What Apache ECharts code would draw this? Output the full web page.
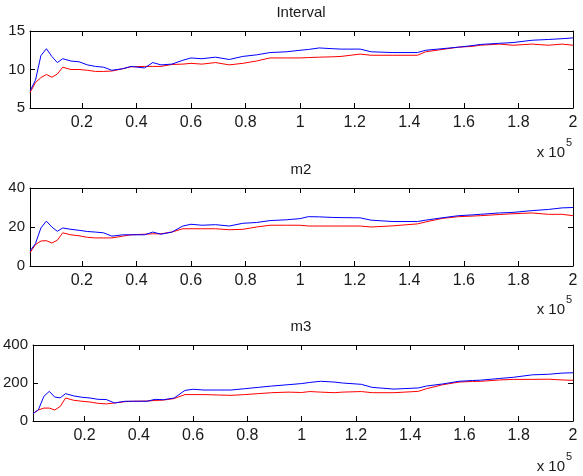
<!DOCTYPE html>
<html>
<head>
<meta charset="utf-8">
<script src="https://cdn.jsdelivr.net/npm/echarts@6/dist/echarts.min.js"></script>
<style>
  html, body { margin: 0; padding: 0; background: #fff; }
  #chart { width: 583px; height: 476px; }
</style>
</head>
<body>
<div id="chart"></div>
<script>
// x positions (raw units, axis shown in 1e5)
var xValues = [1000, 3000, 5000, 7000, 9000, 11000, 13000, 16000, 19000, 22000, 25000, 28000, 31000, 35000, 38000, 43000,
	46000, 49000, 53000, 57000, 60000, 64000, 69000, 74000, 79000, 84000, 89000, 95000, 100000, 103000, 107000, 112000,
	115000, 122000, 126000, 134000, 143000, 146000, 152000, 158000, 163000, 166000, 173000, 178000, 185000, 191000, 196000, 200000];
var xTicks = [20000, 40000, 60000, 80000, 100000, 120000, 140000, 160000, 180000, 200000];

var titles = ['Interval', 'm2', 'm3'];

// Interval
var intervalBlue = [7.2, 8.6, 11.8, 12.7, 11.7, 10.9, 11.4, 11.1, 11.0, 10.6, 10.4, 10.3, 9.9, 10.1, 10.4, 10.2,
	10.9, 10.6, 10.7, 11.2, 11.5, 11.4, 11.6, 11.3, 11.7, 11.9, 12.2, 12.3, 12.5, 12.6, 12.8, 12.7,
	12.65, 12.65, 12.3, 12.2, 12.2, 12.5, 12.7, 12.9, 13.1, 13.25, 13.4, 13.5, 13.8, 13.9, 14.0, 14.1];
var intervalRed = [7.0, 8.3, 8.95, 9.35, 9.0, 9.4, 10.3, 10.0, 10.0, 9.9, 9.75, 9.75, 9.8, 10.1, 10.35, 10.4,
	10.4, 10.4, 10.65, 10.7, 10.8, 10.7, 10.9, 10.6, 10.8, 11.1, 11.5, 11.5, 11.5, 11.55, 11.6, 11.65,
	11.7, 12.0, 11.85, 11.85, 11.85, 12.3, 12.6, 12.9, 13.0, 13.15, 13.3, 13.15, 13.3, 13.15, 13.3, 13.15];

// m2
var m2Blue = [7.7, 11.5, 19.5, 23.0, 20.0, 17.8, 19.5, 18.8, 18.3, 17.7, 17.4, 17.0, 15.3, 16.0, 16.0, 16.0,
	17.4, 16.3, 17.4, 20.5, 21.4, 20.9, 21.2, 20.5, 21.9, 22.3, 23.3, 23.7, 24.3, 25.3, 25.2, 24.9,
	24.8, 24.7, 23.5, 22.8, 22.8, 23.5, 24.7, 25.8, 26.2, 26.5, 27.2, 27.5, 28.4, 29.0, 29.8, 30.0];
var m2Red = [6.8, 11.0, 12.8, 13.0, 11.8, 13.2, 17.0, 16.0, 15.5, 14.7, 14.4, 14.4, 14.4, 15.3, 16.0, 16.3,
	16.5, 16.5, 17.4, 19.1, 19.1, 19.1, 19.1, 18.6, 18.8, 20.0, 20.9, 20.9, 20.9, 20.5, 20.5, 20.5,
	20.5, 20.5, 20.0, 20.6, 21.6, 22.6, 24.4, 25.3, 25.6, 25.8, 26.4, 26.8, 27.2, 26.5, 26.5, 25.8];

// m3
var m3Blue = [39, 60, 130, 156, 126, 122, 144, 132, 125, 121, 114, 113, 95, 104, 104, 104,
	114, 112, 121, 161, 167, 163, 163, 163, 170, 177, 184, 191, 197, 203, 209, 205,
	200, 193, 177, 168, 174, 184, 195, 209, 213, 215, 224, 230, 243, 246, 252, 254];
var m3Red = [39, 58, 68, 68, 58, 76, 121, 109, 104, 100, 93, 90, 95, 102, 104, 105,
	108, 110, 118, 139, 139, 139, 137, 135, 139, 144, 149, 152, 150, 155, 152, 149,
	152, 155, 149, 149, 156, 170, 191, 205, 208, 209, 216, 219, 219, 220, 216, 214];

var yRanges = [[5, 15, 5], [0, 40, 20], [0, 400, 200]];
var blueData = [intervalBlue, m2Blue, m3Blue];
var redData = [intervalRed, m2Red, m3Red];

// Layout der drei Teilplots
var gridTops = [31, 188, 345];
var gridHeights = [77, 78, 76];
var titleY = [13, 170, 327];
var expY = [153, 310, 467];

var font = 'Liberation Sans, Arial, sans-serif';
var textColor = '#1a1a1a';

function pairs(ys) {
	return xValues.map(function (x, i) { return [x, ys[i]]; });
}

var grids = [], xAxes = [], yAxes = [], series = [], graphics = [];

for (var i = 0; i < 3; i++) {
	grids.push({ left: 30, right: 10, top: gridTops[i], height: gridHeights[i], show: false });

	var lineStyle = { color: '#000', width: 1 };
	// unten mit Beschriftung, oben nur Ticks
	xAxes.push({
		type: 'value', gridIndex: i, min: 1000, max: 200000, position: 'bottom',
		axisLine: { show: true, onZero: false, lineStyle: lineStyle },
		axisTick: { show: true, inside: true, length: 5, customValues: xTicks, lineStyle: lineStyle },
		axisLabel: {
			show: true, customValues: xTicks, margin: 7, fontSize: 16, fontFamily: font, color: textColor,
			formatter: function (v) { return String(+(v / 100000).toFixed(1)); }
		},
		splitLine: { show: false }
	});
	xAxes.push({
		type: 'value', gridIndex: i, min: 1000, max: 200000, position: 'top',
		axisLine: { show: true, onZero: false, lineStyle: lineStyle },
		axisTick: { show: true, inside: true, length: 5, customValues: xTicks, lineStyle: lineStyle },
		axisLabel: { show: false },
		splitLine: { show: false }
	});
	yAxes.push({
		type: 'value', gridIndex: i, min: yRanges[i][0], max: yRanges[i][1], interval: yRanges[i][2], position: 'left',
		axisLine: { show: true, onZero: false, lineStyle: lineStyle },
		axisTick: { show: true, inside: true, length: 5, lineStyle: lineStyle },
		axisLabel: { show: true, margin: 5, fontSize: 15, fontFamily: font, color: textColor },
		splitLine: { show: false }
	});
	yAxes.push({
		type: 'value', gridIndex: i, min: yRanges[i][0], max: yRanges[i][1], interval: yRanges[i][2], position: 'right',
		axisLine: { show: true, onZero: false, lineStyle: lineStyle },
		axisTick: { show: true, inside: true, length: 5, lineStyle: lineStyle },
		axisLabel: { show: false },
		splitLine: { show: false }
	});

	series.push({
		type: 'line', xAxisIndex: 2 * i, yAxisIndex: 2 * i, data: pairs(redData[i]),
		showSymbol: false, lineStyle: { color: '#ff0000', width: 1 }, itemStyle: { color: '#ff0000' }
	});
	series.push({
		type: 'line', xAxisIndex: 2 * i, yAxisIndex: 2 * i, data: pairs(blueData[i]),
		showSymbol: false, lineStyle: { color: '#0000ff', width: 1 }, itemStyle: { color: '#0000ff' }
	});

	graphics.push({
		type: 'text', x: 301, y: titleY[i],
		style: { text: titles[i], font: '15px ' + font, fill: textColor, align: 'center', verticalAlign: 'middle' }
	});
	graphics.push({
		type: 'text', x: 565, y: expY[i],
		style: { text: 'x 10', font: '15px ' + font, fill: textColor, align: 'right', verticalAlign: 'middle' }
	});
	graphics.push({
		type: 'text', x: 566, y: expY[i] - 10,
		style: { text: '5', font: '11px ' + font, fill: textColor, align: 'left', verticalAlign: 'middle' }
	});
}

var chart = echarts.init(document.getElementById('chart'), null, { renderer: 'canvas' });
chart.setOption({
	animation: false,
	backgroundColor: '#fff',
	grid: grids,
	xAxis: xAxes,
	yAxis: yAxes,
	series: series,
	graphic: graphics
});
</script>
</body>
</html>
